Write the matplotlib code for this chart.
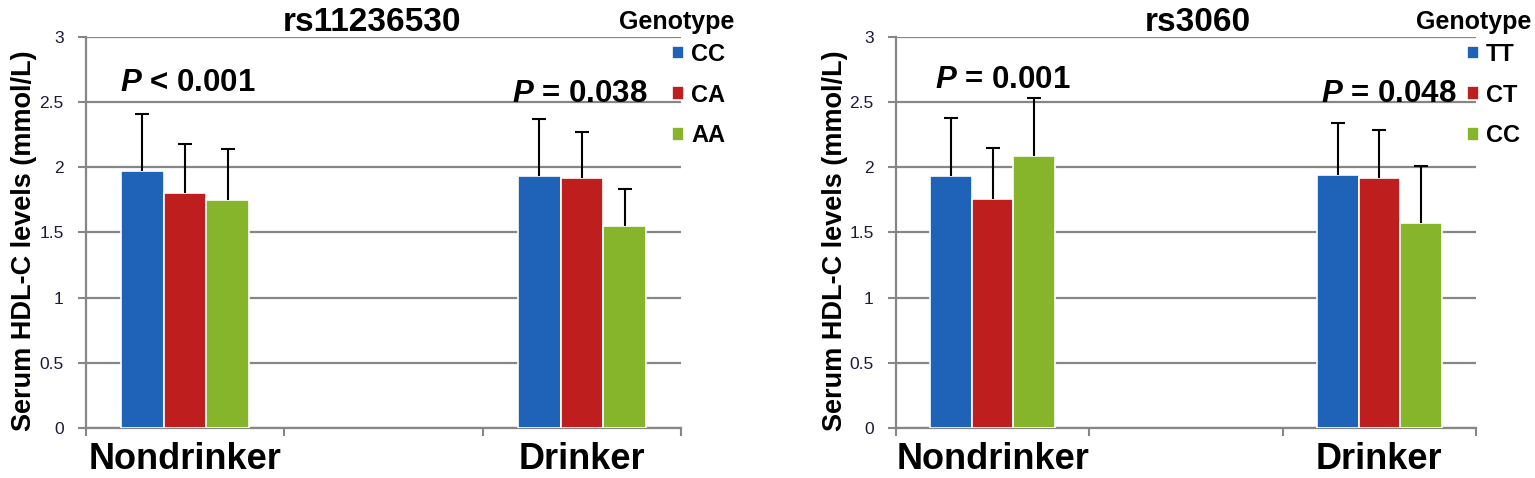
import matplotlib.pyplot as plt
import numpy as np

plt.rcParams['mathtext.fontset'] = 'custom'
plt.rcParams['mathtext.bfit'] = 'Liberation Sans:italic:bold'
plt.rcParams['mathtext.rm'] = 'Liberation Sans'

CATEGORIES = ['Nondrinker', '', 'Drinker']

# rs11236530
SNP1 = 'rs11236530'
SNP1_GENOTYPES = ['CC', 'CA', 'AA']
SNP1_NONDRINKER = [1.97, 1.80, 1.75]
SNP1_NONDRINKER_SD = [0.44, 0.38, 0.39]
SNP1_DRINKER = [1.93, 1.92, 1.55]
SNP1_DRINKER_SD = [0.44, 0.35, 0.28]
SNP1_P = ['< 0.001', '= 0.038']

# rs3060
SNP2 = 'rs3060'
SNP2_GENOTYPES = ['TT', 'CT', 'CC']
SNP2_NONDRINKER = [1.93, 1.76, 2.09]
SNP2_NONDRINKER_SD = [0.45, 0.39, 0.44]
SNP2_DRINKER = [1.94, 1.92, 1.57]
SNP2_DRINKER_SD = [0.40, 0.37, 0.44]
SNP2_P = ['= 0.001', '= 0.048']

COLORS = ['#1f63b8', '#bf1e1e', '#86b52b']
GRID = '#868686'


def draw_panel(ax, title, genotypes, nondrink, nondrink_sd, drink, drink_sd, pvals, p_pos, title_x, genotype_x):
    width = 0.215
    offsets = [-width, 0, width]
    xs = np.array([0, 2])
    for i in range(3):
        vals = np.array([nondrink[i], drink[i]])
        sds = np.array([nondrink_sd[i], drink_sd[i]])
        ax.bar(xs + offsets[i], vals, width, color=COLORS[i], edgecolor='white',
               linewidth=1.2, label=genotypes[i], zorder=3)
        # upper error bar only, cap on top
        ax.vlines(xs + offsets[i], vals, vals + sds, color='black', linewidth=1.5, zorder=4)
        ax.plot(xs + offsets[i], vals + sds, linestyle='none', marker='_',
                markersize=10, markeredgewidth=1.5, color='black', zorder=4)

    ax.set_xlim(-0.5, 2.5)
    ax.set_ylim(0, 3)
    ax.set_yticks(np.arange(0, 3.01, 0.5))
    ax.set_yticklabels(['0', '0.5', '1', '1.5', '2', '2.5', '3'],
                       fontsize=12.5, family='Liberation Sans', color='#1a1a3a')
    ax.tick_params(axis='y', length=6, width=1.5, color=GRID, pad=10)
    ax.yaxis.grid(True, color=GRID, linewidth=1.6, zorder=0)
    ax.set_axisbelow(True)

    ax.set_xticks([0, 2])
    ax.set_xticklabels([CATEGORIES[0], CATEGORIES[2]], fontsize=26,
                       fontweight='bold', family='Liberation Sans')
    ax.tick_params(axis='x', length=0, pad=10)
    ax.set_xticks([-0.5, 0.5, 1.5, 2.5], minor=True)
    ax.tick_params(axis='x', which='minor', length=6, width=1.5, color=GRID, direction='out')

    for side in ['top', 'right']:
        ax.spines[side].set_visible(False)
    for side in ['left', 'bottom']:
        ax.spines[side].set_color(GRID)
        ax.spines[side].set_linewidth(1.6)

    ax.set_ylabel('Serum HDL-C levels (mmol/L)', fontsize=19.5, fontweight='bold',
                  family='Liberation Sans')
    ax.yaxis.set_label_coords(-0.083, 0.48)

    ax.text(title_x, 1.015, title, transform=ax.transAxes, ha='center', va='baseline',
            fontsize=24, fontweight='bold', family='Liberation Sans')

    for (px, py), p in zip(p_pos, pvals):
        ax.text(px, py, r'$\mathbfit{P}$ ' + p, ha='left', va='center', fontsize=22.5,
                fontweight='bold', family='Liberation Sans')

    ax.text(genotype_x, 1.02, 'Genotype', transform=ax.transAxes, ha='right',
            va='baseline', fontsize=18, fontweight='bold', family='Liberation Sans')
    ax.legend(loc='upper left', bbox_to_anchor=(0.985, 0.985), frameon=False,
              handlelength=0.5, handleheight=0.5, handletextpad=0.3,
              labelspacing=0.75, borderpad=0, borderaxespad=0,
              prop={'family': 'Liberation Sans', 'weight': 'bold', 'size': 17})


fig = plt.figure(figsize=(15.35, 4.78), dpi=100)
ax1 = fig.add_axes([0.056, 0.1046, 0.3877, 0.818])
ax2 = fig.add_axes([0.5837, 0.1046, 0.3779, 0.818])

draw_panel(ax1, SNP1, SNP1_GENOTYPES, SNP1_NONDRINKER, SNP1_NONDRINKER_SD,
           SNP1_DRINKER, SNP1_DRINKER_SD, SNP1_P, [(-0.33, 2.65), (1.65, 2.56)], 0.48, 1.09)
draw_panel(ax2, SNP2, SNP2_GENOTYPES, SNP2_NONDRINKER, SNP2_NONDRINKER_SD,
           SNP2_DRINKER, SNP2_DRINKER_SD, SNP2_P, [(-0.30, 2.67), (1.70, 2.56)], 0.52, 1.095)

fig.savefig('out.png', dpi=100)
